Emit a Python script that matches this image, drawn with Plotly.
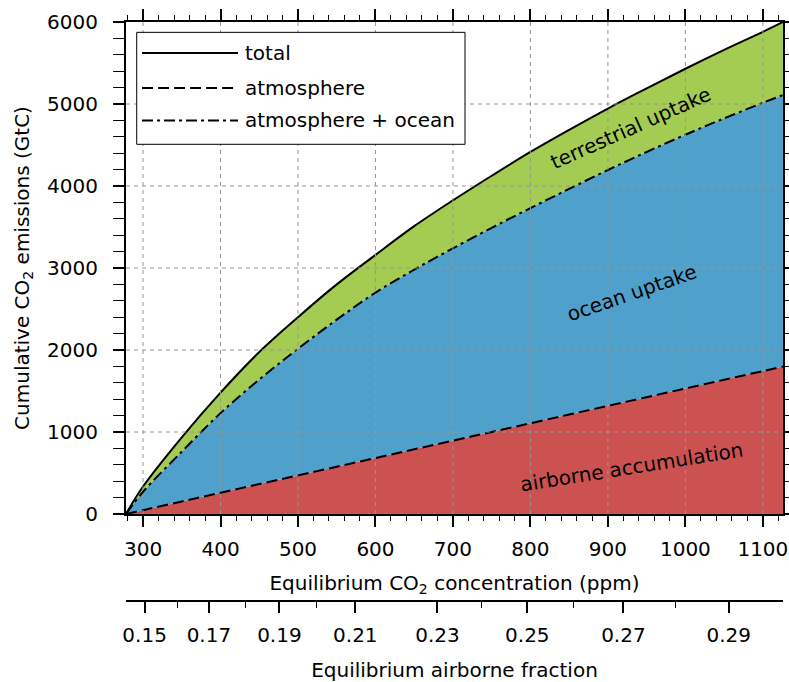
import plotly.graph_objects as go

# Equilibrium CO2 concentration (ppm) at which the curves are sampled
ppm = [278, 300, 350, 400, 450, 500, 550, 600, 650, 700, 750, 800,
       850, 900, 950, 1000, 1050, 1100, 1126]

# Cumulative emissions (GtC) partitioned between the reservoirs
total = [0, 335, 935, 1480, 1975, 2400, 2800, 3160, 3510, 3825, 4125, 4415,
         4685, 4945, 5190, 5430, 5660, 5880, 6000]
atm_ocean = [0, 270, 760, 1230, 1640, 2015, 2370, 2700, 2980, 3240, 3490, 3730,
             3965, 4195, 4415, 4625, 4825, 5015, 5110]
atmosphere = [0, 47, 153, 259, 365, 471, 577, 683, 789, 895, 1001, 1107,
              1213, 1319, 1425, 1531, 1637, 1743, 1798]

# Secondary axis: equilibrium airborne fraction at the matching concentration
af_labels = ["0.15", "0.17", "0.19", "0.21", "0.23", "0.25", "0.27", "0.29"]
af_ppm = [302, 385, 476, 574, 680, 796, 920, 1056]
af_minor_ppm = [344, 432, 524, 737, 856, 987]

# legend entries: name and dash style
legend_names = ["total", "atmosphere", "atmosphere + ocean"]
legend_dashes = ["solid", "11px,5px", "11px,4px,3px,4px"]

RED = "#CC5252"
BLUE = "#4FA1CB"
GREEN = "#A4CB52"
FONT = "DejaVu Sans"

fig = go.Figure()

# stacked fills
fig.add_trace(go.Scatter(x=ppm, y=atmosphere, mode="none", fill="tozeroy",
                         fillcolor=RED, line_shape="spline", showlegend=False,
                         hoverinfo="skip"))
fig.add_trace(go.Scatter(x=ppm, y=atm_ocean, mode="none", fill="tonexty",
                         fillcolor=BLUE, line_shape="spline", showlegend=False,
                         hoverinfo="skip"))
fig.add_trace(go.Scatter(x=ppm, y=total, mode="none", fill="tonexty",
                         fillcolor=GREEN, line_shape="spline", showlegend=False,
                         hoverinfo="skip"))

# boundary lines
for name, ys, dash in zip(legend_names, [total, atmosphere, atm_ocean],
                          legend_dashes):
    fig.add_trace(go.Scatter(x=ppm, y=ys, mode="lines", name=name,
                             line=dict(color="black", width=2, shape="spline",
                                       dash=dash),
                             showlegend=False))

# carrier for the airborne-fraction axis
fig.add_trace(go.Scatter(x=ppm, y=total, xaxis="x2", mode="none",
                         showlegend=False, hoverinfo="skip"))

# dashed grid drawn over the filled areas
grid = dict(color="rgb(150,150,150)", width=1, dash="4px,4px")
for xv in range(300, 1101, 100):
    fig.add_shape(type="line", xref="x", yref="y", x0=xv, x1=xv, y0=0, y1=6000,
                  line=grid, layer="above")
for yv in range(1000, 6000, 1000):
    fig.add_shape(type="line", xref="x", yref="y", x0=ppm[0], x1=ppm[-1],
                  y0=yv, y1=yv, line=grid, layer="above")

# legend box with long line samples
fig.add_shape(type="rect", xref="x domain", yref="y domain",
              x0=0.0163, x1=0.516, y0=0.7514, y1=0.979,
              line=dict(color="black", width=1), fillcolor="white",
              layer="above")
row_y = [0.937, 0.866, 0.800]
for name, dash, ry in zip(legend_names, legend_dashes, row_y):
    fig.add_shape(type="line", xref="x domain", yref="y domain",
                  x0=0.0244, x1=0.1705, y0=ry, y1=ry,
                  line=dict(color="black", width=2, dash=dash), layer="above")
    fig.add_annotation(x=0.178, y=ry, xref="x domain", yref="y domain",
                       text=name, showarrow=False, xanchor="left",
                       yanchor="middle",
                       font=dict(family=FONT, size=20, color="black"))

labels = [
    ("terrestrial uptake", 929, 4713, -24),
    ("ocean uptake", 930, 2701, -19),
    ("airborne accumulation", 931, 577, -9),
]
for txt, xv, yv, ang in labels:
    fig.add_annotation(x=xv, y=yv, xref="x", yref="y", text=txt,
                       showarrow=False, textangle=ang,
                       font=dict(family=FONT, size=20, color="black"))

axis_common = dict(showline=True, linewidth=2, linecolor="black",
                   ticks="outside", ticklen=11, tickwidth=2, tickcolor="black",
                   showgrid=False, zeroline=False, automargin=False,
                   tickfont=dict(family=FONT, size=20, color="black"))

fig.update_layout(
    width=789, height=682,
    margin=dict(l=126, r=6, t=22, b=20),
    plot_bgcolor="white", paper_bgcolor="white",
    font=dict(family=FONT, size=20, color="black"),
    showlegend=False,
    xaxis=dict(range=[ppm[0], ppm[-1]], tickmode="linear", tick0=0, dtick=100,
               mirror="allticks", ticklabelstandoff=5,
               minor=dict(ticks="outside", tick0=0, dtick=20, ticklen=5,
                          tickwidth=1, tickcolor="black", showgrid=False),
               title=dict(text="Equilibrium CO<sub>2</sub> concentration (ppm)",
                          standoff=16, font=dict(family=FONT, size=20)),
               **axis_common),
    yaxis=dict(domain=[0.23125, 1], range=[0, 6000], tickmode="linear",
               tick0=0, dtick=1000, mirror="allticks", ticklabelstandoff=11,
               minor=dict(ticks="outside", tick0=0, dtick=200, ticklen=5,
                          tickwidth=1, tickcolor="black", showgrid=False),
               title=dict(text="Cumulative CO<sub>2</sub> emissions (GtC)",
                          standoff=12, font=dict(family=FONT, size=20)),
               **axis_common),
    xaxis2=dict(overlaying="x", anchor="free", position=0.0953, side="bottom",
                range=[ppm[0], ppm[-1]], tickmode="array", tickvals=af_ppm,
                ticktext=af_labels, ticklabelstandoff=5,
                minor=dict(ticks="outside", tickmode="array",
                           tickvals=af_minor_ppm, ticklen=6, tickwidth=1,
                           tickcolor="black", showgrid=False),
                title=dict(text="Equilibrium airborne fraction", standoff=16,
                           font=dict(family=FONT, size=20)),
                **axis_common),
)

fig.write_html("out.html")
